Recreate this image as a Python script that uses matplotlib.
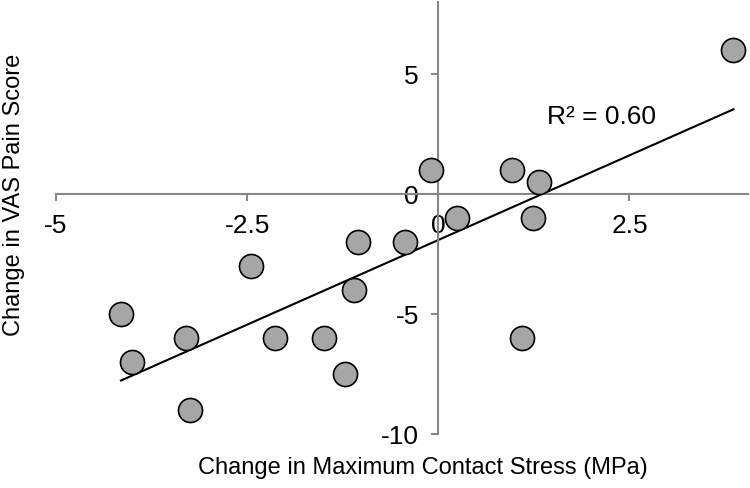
import numpy as np
import matplotlib.pyplot as plt

plt.rcParams['font.family'] = ['Liberation Sans', 'DejaVu Sans']
plt.rcParams['axes.unicode_minus'] = False

# change in max contact stress (MPa) vs change in VAS pain score
stress = [-4.15, -4.0, -3.3, -3.25, -2.45, -2.13, -1.5, -1.22, -1.1, -1.05,
          -0.43, -0.09, 0.24, 0.97, 1.09, 1.24, 1.32, 3.86]
pain = [-5, -7, -6, -9, -3, -6, -6, -7.5, -4, -2,
        -2, 1, -1, 1, -6, -1, 0.5, 6]
xticks = [-5, -2.5, 0, 2.5]
xticklabels = ['-5', '-2.5', '0', '2.5']
yticks = [-10, -5, 0, 5]
r2_label = 'R² = 0.60'

fig = plt.figure(figsize=(7.5, 4.89), dpi=100)
ax = fig.add_axes([56/750, 54/489, 692/750, 432/489])

x = np.array(stress)
y = np.array(pain)
k, b = np.polyfit(x, y, 1)
xl = np.array([x.min(), x.max()])
ax.plot(xl, k*xl + b, color='black', lw=1.5, zorder=2)
ax.scatter(x, y, s=300, facecolor='#a6a6a6', edgecolor='black', linewidth=1.2, zorder=3)

ax.set_xlim(-5, 4.05)
ax.set_ylim(-10, 8)
ax.spines['left'].set_position(('data', 0))
ax.spines['bottom'].set_position(('data', 0))
ax.spines['right'].set_visible(False)
ax.spines['top'].set_visible(False)
for s in ['left', 'bottom']:
    ax.spines[s].set_color('#868686')
    ax.spines[s].set_linewidth(1.5)

ax.set_xticks(xticks)
ax.set_xticklabels(xticklabels)
ax.set_yticks(yticks)
ax.tick_params(direction='out', length=5, width=1.5, color='#868686', labelsize=19, pad=9)

ax.text(1.42, 3.25, r2_label, fontsize=19, va='center')

fig.text(423/750, 1 - 468/489, 'Change in Maximum Contact Stress (MPa)', fontsize=17,
         ha='center', va='center')
fig.text(14/750, 1 - 195/489, 'Change in VAS Pain Score', fontsize=17,
         rotation=90, ha='center', va='center')

fig.savefig('out.png', dpi=100)
